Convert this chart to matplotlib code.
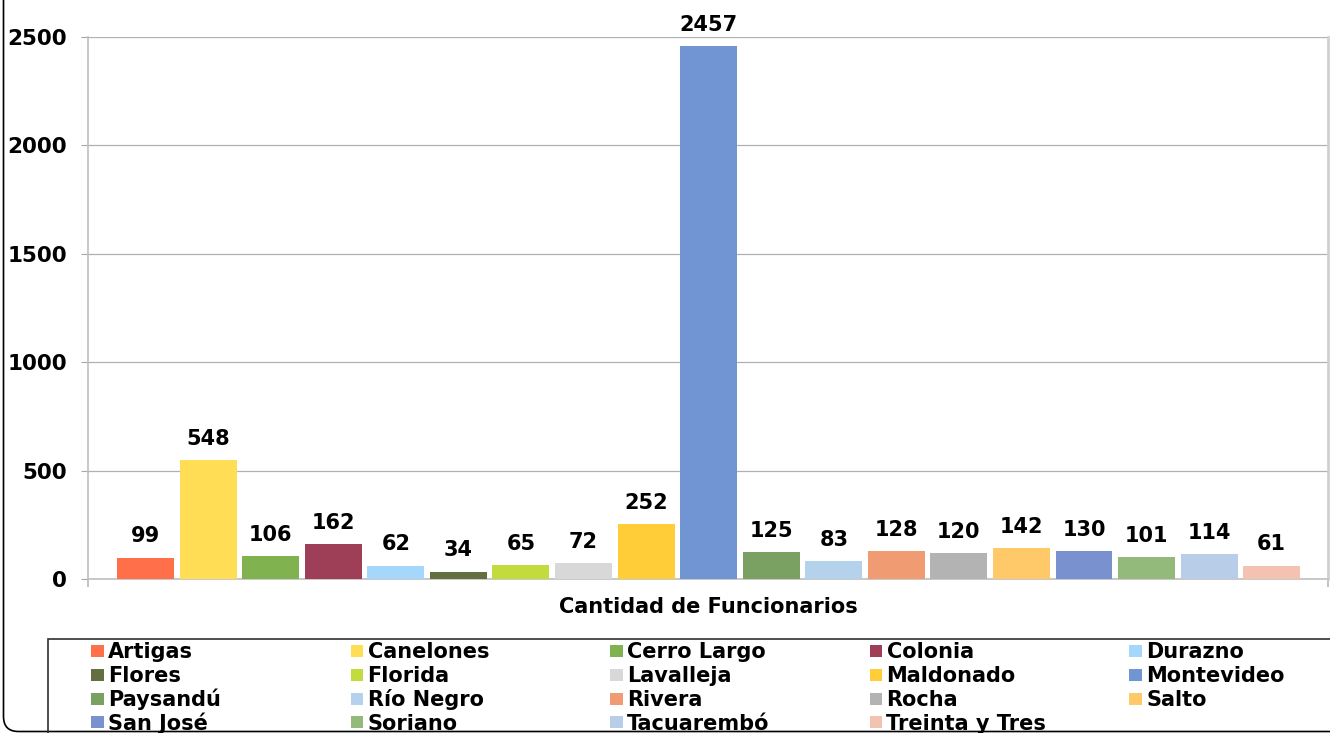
import matplotlib
matplotlib.use("Agg")
import matplotlib.pyplot as plt
from matplotlib.patches import Rectangle, FancyBboxPatch
from matplotlib.transforms import IdentityTransform

departments = ["Artigas", "Canelones", "Cerro Largo", "Colonia", "Durazno",
               "Flores", "Florida", "Lavalleja", "Maldonado", "Montevideo",
               "Paysandú", "Río Negro", "Rivera", "Rocha", "Salto",
               "San José", "Soriano", "Tacuarembó", "Treinta y Tres"]
values = [99, 548, 106, 162, 62, 34, 65, 72, 252, 2457,
          125, 83, 128, 120, 142, 130, 101, 114, 61]
colors = ["#FF704A", "#FFDD55", "#80B350", "#9E3F57", "#A5D7FD",
          "#636F41", "#C3DB3D", "#D8D8D8", "#FFCD38", "#7095D2",
          "#7AA062", "#B4D2EC", "#F09B72", "#B3B3B3", "#FFC96A",
          "#7A91CF", "#93BA7A", "#B8CDE7", "#F4C2B1"]
yticks = [0, 500, 1000, 1500, 2000, 2500]
xlabel = "Cantidad de Funcionarios"

W, H = 1330, 733
DPI = 100
plt.rcParams['font.family'] = ['DejaVu Sans']
fig = plt.figure(figsize=(W / DPI, H / DPI), dpi=DPI)

def px(x0, y0, x1, y1):
    return [x0 / W, 1 - y1 / H, (x1 - x0) / W, (y1 - y0) / H]

ax = fig.add_axes(px(88, 37, 1328, 579))
xs = list(range(len(values)))
for x, v, c in zip(xs, values, colors):
    ax.bar(x, v, width=0.91, color=c, zorder=3)
    ax.annotate(str(v), (x, v), xytext=(0, 11), textcoords="offset points",
                ha="center", va="baseline", fontsize=15, fontweight="bold",
                color="black")

x0, x1 = -0.92, len(values) - 1 + 0.90
ax.set_xlim(x0, x1)
ax.set_ylim(0, 2500)
ax.set_yticks(yticks)
ax.set_yticklabels([str(t) for t in yticks], fontsize=15.5, fontweight="bold")
ax.set_xticks([x0, x1])
ax.set_xticklabels([])
ax.tick_params(axis="y", length=5, color="#A6A6A6", pad=10)
ax.tick_params(axis="x", length=5.8, color="#BFBFBF", width=1.3)
ax.grid(axis="y", color="#B0B0B0", linewidth=0.9, zorder=0)
ax.spines["top"].set_visible(False)
ax.spines["left"].set_color("#BFBFBF")
ax.spines["bottom"].set_color("#BFBFBF")
ax.spines["right"].set_color("#D0D0D0")
ax.spines["right"].set_linewidth(2)
ax.spines["left"].set_linewidth(1.2)
ax.spines["bottom"].set_linewidth(1.2)

fig.text(708 / W, 1 - 607 / H, xlabel, ha="center", va="center",
         fontsize=15, fontweight="bold")

# Outer chart border (rounded, partially visible)
border = FancyBboxPatch((3.5, H - 731.5), 1500, 800,
                        boxstyle="round,pad=0,rounding_size=15",
                        transform=IdentityTransform(), fill=False,
                        edgecolor="black", linewidth=1.2)
fig.add_artist(border)

# Legend frame (partially visible)
frame = Rectangle((48, -20), 1400, H - 639 + 20, transform=IdentityTransform(),
                  fill=False, edgecolor="#303030", linewidth=1.2)
fig.add_artist(frame)

# Legend entries, row-major
col_x = [91, 350.5, 610, 869.5, 1129]
row_y = [651, 675, 699, 722]
for i, (name, c) in enumerate(zip(departments, colors)):
    r, k = divmod(i, 5)
    cx, cy = col_x[k], row_y[r]
    fig.add_artist(Rectangle((cx / W, 1 - (cy + 6) / H), 12.5 / W, 12.5 / H,
                             transform=fig.transFigure, facecolor=c,
                             edgecolor="none"))
    fig.text((cx + 17) / W, 1 - (cy + 7.5) / H, name, ha="left", va="baseline",
             fontsize=15, fontweight="bold")

fig.savefig("out.png", dpi=DPI)
